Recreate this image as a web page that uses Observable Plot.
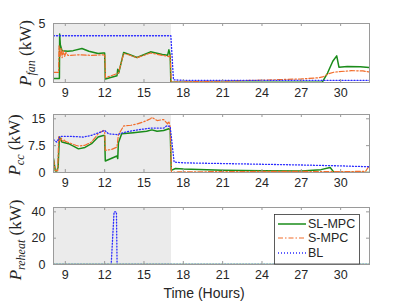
<!DOCTYPE html>
<html><head><meta charset="utf-8">
<script src="https://cdn.jsdelivr.net/npm/d3@7"></script>
<script src="https://cdn.jsdelivr.net/npm/@observablehq/plot@0.6"></script>
<style>
html,body{margin:0;padding:0;background:#fff;}
#chart{width:407px;height:305px;overflow:hidden;position:relative;}
#chart svg{display:block;}
</style></head><body><div id="chart"></div>
<script>
// ---- data ----
const xDomain = [8.1, 32.2];
const xTicks = [9, 12, 15, 18, 21, 24, 27, 30];
const occupied = [8.1, 17.1];
const seriesNames = ["SL-MPC", "S-MPC", "BL"];

const fanTicks = [0, 5];
const ccTicks = [0, 7.5, 15];
const reheatTicks = [0, 20, 40];

const fanSL = [[8.1,0.33],[8.55,0.33],[8.57,4.1],[8.62,3.2],[8.75,2.7],[9.2,2.65],[9.6,2.7],[10.27,2.88],[10.8,2.65],[11.5,2.45],[11.9,2.49],[12.0,2.49],[12.05,0.29],[12.94,0.57],[13.0,1.13],[13.07,0.8],[13.45,2.54],[13.83,2.4],[14.47,2.12],[15.5,2.6],[16.4,2.37],[16.8,2.3],[16.9,2.77],[17.0,2.3],[17.05,0.03],[28.6,0.03],[29.0,0.8],[29.4,1.8],[29.7,2.26],[29.87,1.3],[30.5,1.35],[31.5,1.33],[32.2,1.27]];
const fanS = [[8.1,0.85],[8.49,0.85],[8.52,3.1],[8.6,2.2],[8.68,2.9],[8.76,2.1],[8.85,2.7],[8.95,2.2],[9.05,2.55],[9.2,2.3],[9.4,2.3],[10.0,2.35],[11.0,2.3],[11.9,2.35],[12.02,2.3],[12.06,0.4],[12.94,0.75],[13.05,0.8],[13.45,2.45],[13.83,2.35],[14.47,2.1],[15.5,2.5],[16.4,2.3],[16.9,2.2],[17.0,2.3],[17.08,0.0],[17.6,0.05],[21,0.12],[24,0.2],[27,0.3],[28.3,0.4],[28.7,0.5],[29.1,0.75],[29.5,0.88],[30.8,1.0],[31.7,0.98],[32.2,0.88]];
const fanBL = [[8.1,3.96],[17.05,3.96],[17.25,0.23],[18,0.18],[32.2,0.18]];

const ccSL = [[8.1,3.9],[8.24,0.45],[8.35,0.45],[8.45,1.5],[8.55,9.9],[8.75,8.5],[9.25,8.05],[9.76,7.1],[10.0,6.6],[10.5,7.0],[11.0,8.05],[11.5,9.9],[11.9,10.35],[12.0,10.3],[12.05,3.2],[12.94,4.6],[13.0,3.9],[13.05,8.3],[13.3,10.8],[14.2,11.1],[15.2,11.5],[15.6,11.9],[16.0,11.5],[16.5,11.75],[16.9,12.2],[17.0,12.0],[17.08,0.6],[17.4,1.1],[18,0.95],[21,0.65],[24,0.5],[27,0.45],[28.5,0.8],[29.2,1.4],[29.5,0.0],[32.2,0.0]];
const ccS = [[8.1,3.6],[8.24,0.5],[8.42,0.5],[8.5,10.2],[8.6,8.8],[8.7,9.6],[8.8,8.7],[8.9,9.2],[9.0,8.7],[9.3,8.3],[9.8,7.6],[10.0,7.4],[10.5,7.6],[11.0,8.5],[11.5,10.8],[11.9,11.75],[12.0,11.6],[12.05,6.2],[12.5,6.4],[12.94,7.1],[13.05,10.5],[13.45,13.0],[14.0,13.2],[14.5,13.6],[15.0,14.2],[15.5,15.0],[15.6,15.4],[16.0,14.5],[16.5,14.8],[16.8,13.6],[16.9,14.3],[17.0,12.7],[17.1,0.0],[17.6,0.15],[21,0.25],[24,0.3],[27,0.3],[29,0.25],[31.9,0.3],[32.2,2.0]];
const ccBL = [[8.1,9.2],[8.35,8.5],[8.6,10.1],[9.4,10.1],[10.4,9.9],[11.0,10.4],[11.7,11.3],[12.0,11.75],[12.3,10.8],[12.95,10.6],[13.6,11.3],[14.5,11.9],[15.5,12.4],[16.5,12.4],[16.76,13.1],[17.0,12.8],[17.3,2.9],[18,2.7],[21,2.5],[24,2.3],[27,2.1],[30,1.85],[32.2,1.6]];

const reheatSL = [[8.1,0],[32.2,0]];
const reheatS = [[8.1,0],[32.2,0]];
const reheatBL = [[8.1,0],[12.5,0],[12.72,40],[12.9,40],[12.95,0],[32.2,0]];

// ---- styles ----
const colors = ["#1a8c1a", "#f26d2b", "#2b2bff"];
const widths = [1.5, 1.2, 1.3];
const dashes = [null, "5,2,1.5,2", "1,2"];
const frameColor = "#9a9a9a";
const textColor = "#262626";
const W = 407, ML = 53, MR = 38;

function panel({height, mt, mb, yDomain, yTicks, yFmt, data}) {
  const ph = height - mt - mb, pw = W - ML - MR;
  const marks = [
    Plot.rect([occupied], {x1: d => d[0], x2: d => d[1], fill: "#ebebeb"}),
    ...data.map((d, i) => Plot.line(d, {x: p => p[0], y: p => p[1], stroke: colors[i], strokeWidth: widths[i], strokeDasharray: dashes[i], clip: true})),
    Plot.ruleX(xTicks, {x: d => d, insetTop: ph - 3, stroke: frameColor}),
    Plot.ruleX(xTicks, {x: d => d, insetBottom: ph - 3, stroke: frameColor}),
    Plot.ruleY(yTicks, {y: d => d, insetRight: pw - 3, stroke: frameColor}),
    Plot.ruleY(yTicks, {y: d => d, insetLeft: pw - 3, stroke: frameColor}),
    Plot.frame({stroke: frameColor}),
    Plot.axisX(xTicks, {tickSize: 0, tickPadding: 6, label: null}),
    Plot.axisY(yTicks, {tickSize: 0, tickPadding: 8, label: null, tickFormat: yFmt})
  ];
  return Plot.plot({
    width: W, height, marginTop: mt, marginBottom: mb, marginLeft: ML, marginRight: MR,
    x: {domain: xDomain}, y: {domain: yDomain},
    style: {fontFamily: "'Liberation Sans', Arial, sans-serif", fontSize: "12.5px", color: textColor, background: "white", overflow: "visible"},
    marks
  });
}

function yLabel(svgNode, x, y, sub) {
  const t = d3.select(svgNode).append("text")
    .attr("transform", `translate(${x},${y}) rotate(-90)`)
    .attr("text-anchor", "middle")
    .attr("font-family", "'Liberation Serif', 'DejaVu Serif', serif")
    .attr("font-size", 17).attr("fill", textColor);
  t.append("tspan").attr("font-style", "italic").text("P");
  t.append("tspan").attr("font-style", "italic").attr("font-size", 12).attr("dy", 4).text(sub);
  t.append("tspan").attr("dy", -4).text("\u00a0(kW)");
}

const chart = document.getElementById("chart");

const p1 = panel({height: 100, mt: 23, mb: 18, yDomain: [0, 5], yTicks: fanTicks, yFmt: d => String(d), data: [fanSL, fanS, fanBL]});
yLabel(p1, 31, 53, "fan");
chart.appendChild(p1);

const p2 = panel({height: 93, mt: 14, mb: 21, yDomain: [0, 16.2], yTicks: ccTicks, yFmt: d => String(d), data: [ccSL, ccS, ccBL]});
yLabel(p2, 20, 45, "cc");
chart.appendChild(p2);

const p3 = panel({height: 112, mt: 14, mb: 41, yDomain: [0, 43.3], yTicks: reheatTicks, yFmt: d => String(d), data: [reheatSL, reheatS, reheatBL]});
yLabel(p3, 21, 47, "reheat");
// x label
d3.select(p3).append("text").attr("x", 204).attr("y", 100).attr("dy", "0.35em")
  .attr("text-anchor", "middle").attr("font-family", "'Liberation Sans', Arial, sans-serif")
  .attr("font-size", 14).attr("fill", textColor).text("Time (Hours)");
// legend
const lg = d3.select(p3).append("g").attr("text-anchor", "start");
lg.append("rect").attr("x", 274.5).attr("y", 21.5).attr("width", 85).attr("height", 49.5)
  .attr("fill", "white").attr("stroke", "#333").attr("stroke-width", 0.8);
const rows = [31, 45, 60];
seriesNames.forEach((name, i) => {
  lg.append("line").attr("x1", 278).attr("x2", 306).attr("y1", rows[i]).attr("y2", rows[i])
    .attr("stroke", colors[i]).attr("stroke-width", widths[i]).attr("stroke-dasharray", dashes[i]);
  lg.append("text").attr("x", 308).attr("y", rows[i]).attr("dy", "0.35em").attr("text-anchor", "start")
    .attr("font-family", "'Liberation Sans', Arial, sans-serif").attr("font-size", 12.5)
    .attr("fill", textColor).text(name);
});
chart.appendChild(p3);
</script></body></html>
